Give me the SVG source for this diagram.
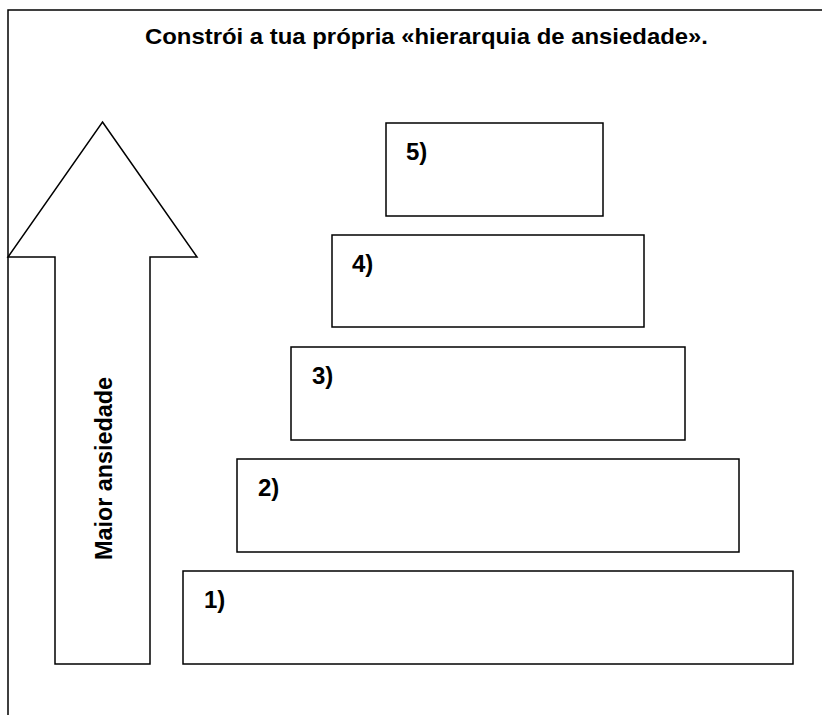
<svg xmlns="http://www.w3.org/2000/svg" width="822" height="715" viewBox="0 0 822 715">
<style>
.ln{fill:none;stroke:#000;stroke-width:1.5}
.bx{fill:#fff;stroke:#000;stroke-width:1.5}
.t{font-family:"Liberation Sans",Arial,sans-serif;font-weight:bold;fill:#000}
.n{font-size:24px}
</style>
<rect width="822" height="715" fill="#fff"/>
<g id="frame">
<polyline class="ln" points="8,715 8,10 822,10"/>
</g>
<text class="t" x="145" y="44" font-size="22" textLength="563" lengthAdjust="spacingAndGlyphs">Constrói a tua própria «hierarquia de ansiedade».</text>
<g id="arrow">
<polygon class="bx" points="102.5,122 197,257 150,257 150,664 55,664 55,257 8,257"/>
<text class="t" font-size="24" x="0" y="0" textLength="183" lengthAdjust="spacingAndGlyphs" transform="translate(112,560) rotate(-90)">Maior ansiedade</text>
</g>
<g id="box5"><rect class="bx" x="386" y="123" width="217" height="93"/><text class="t n" x="406" y="160">5)</text></g>
<g id="box4"><rect class="bx" x="332" y="235" width="312" height="92"/><text class="t n" x="352" y="272">4)</text></g>
<g id="box3"><rect class="bx" x="291" y="347" width="394" height="93"/><text class="t n" x="312" y="384">3)</text></g>
<g id="box2"><rect class="bx" x="237" y="459" width="502" height="93"/><text class="t n" x="258" y="496">2)</text></g>
<g id="box1"><rect class="bx" x="183" y="571" width="610" height="93"/><text class="t n" x="204" y="608">1)</text></g>
<g id="connectors"/>
</svg>
